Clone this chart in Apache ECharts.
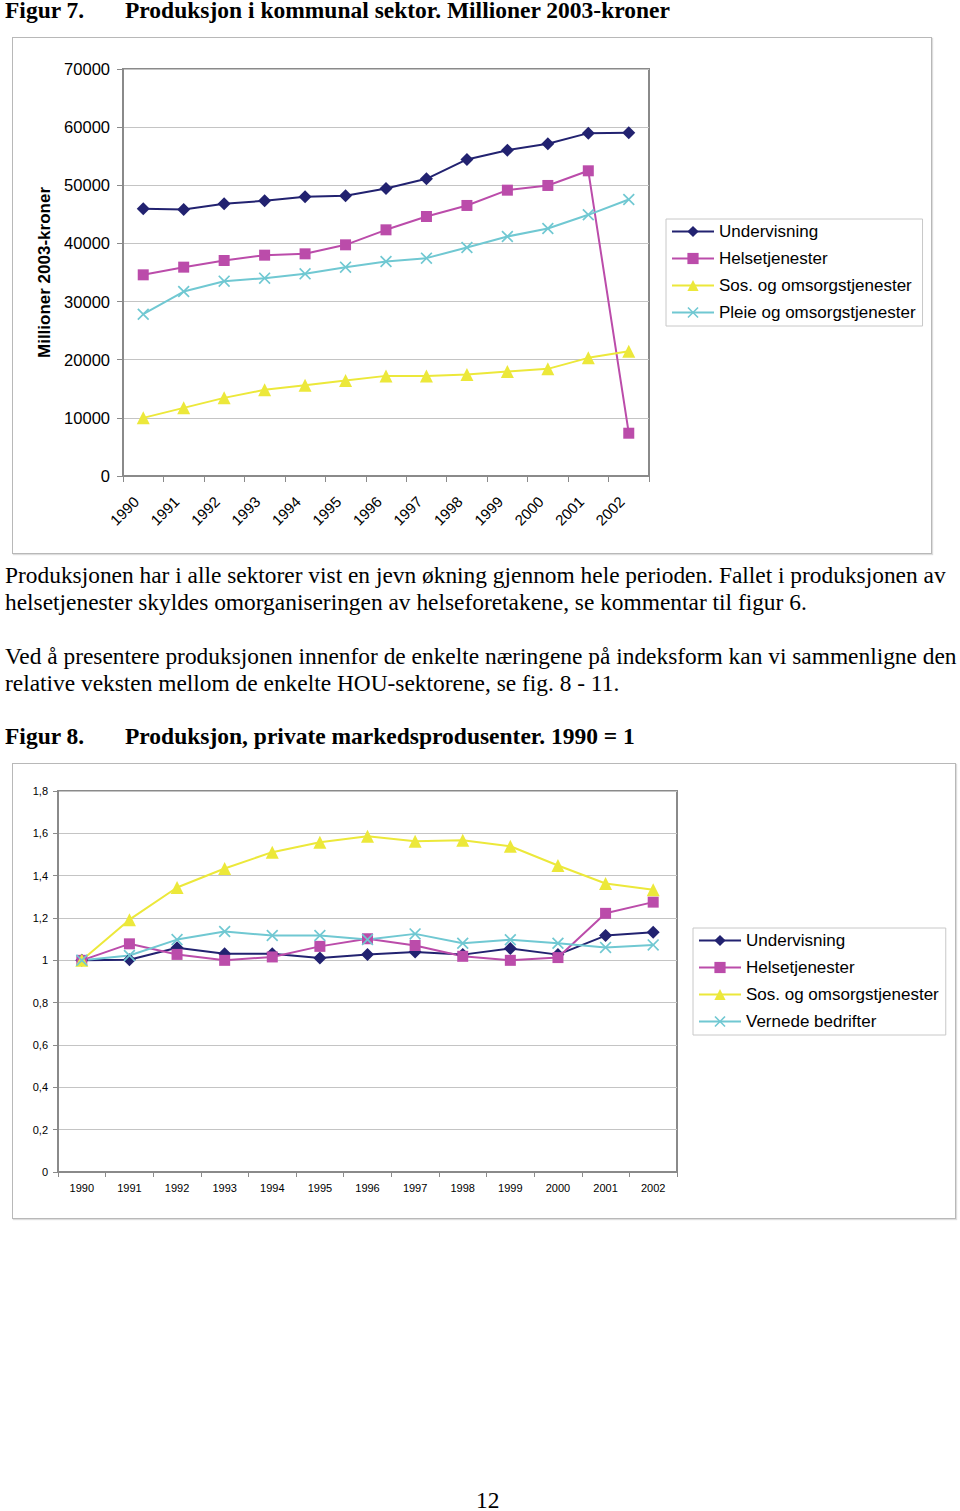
<!DOCTYPE html>
<html>
<head>
<meta charset="utf-8">
<script src="https://cdn.jsdelivr.net/npm/echarts@6/dist/echarts.min.js"></script>
<style>
  body { margin: 0; width: 960px; height: 1511px; position: relative; background: #fff; font-family: "Liberation Serif", serif; }
  .t { position: absolute; white-space: nowrap; color: #000; line-height: 26px; }
  .fig { font-weight: bold; font-size: 23.5px; }
  .p { font-size: 23.4px; }
  .box { position: absolute; border: 1px solid #b8b8b8; box-shadow: 1px 1px 1px #ddd; }
</style>
</head>
<body>
<!-- Figur 7 -->
<div class="t fig" style="left:5px;top:-3px">Figur 7.</div>
<div class="t fig" style="left:125px;top:-3px">Produksjon i kommunal sektor. Millioner 2003-kroner</div>
<div class="box" id="chart1" style="left:12px;top:37px;width:918px;height:515px"></div>

<div class="t p" style="left:5px;top:562px">Produksjonen har i alle sektorer vist en jevn økning gjennom hele perioden. Fallet i produksjonen av</div>
<div class="t p" style="left:5px;top:589px">helsetjenester skyldes omorganiseringen av helseforetakene, se kommentar til figur 6.</div>
<div class="t p" style="left:5px;top:643px">Ved å presentere produksjonen innenfor de enkelte næringene på indeksform kan vi sammenligne den</div>
<div class="t p" style="left:5px;top:670px">relative veksten mellom de enkelte HOU-sektorene, se fig. 8 - 11.</div>

<!-- Figur 8 -->
<div class="t fig" style="left:5px;top:723px">Figur 8.</div>
<div class="t fig" style="left:125px;top:723px">Produksjon, private markedsprodusenter. 1990 = 1</div>
<div class="box" id="chart2" style="left:12px;top:763px;width:942px;height:454px"></div>

<div class="t p" style="left:476px;top:1487px">12</div>

<script>
// år
const years = ['1990', '1991', '1992', '1993', '1994', '1995', '1996', '1997', '1998', '1999', '2000', '2001', '2002'];

// figur 7, millioner 2003-kroner
const undervisning = [45950, 45840, 46810, 47330, 48020, 48190, 49450, 51110, 54440, 56040, 57130, 58970, 59030];
const helse = [34600, 35920, 37060, 37980, 38210, 39760, 42340, 44630, 46530, 49160, 49970, 52490, 7360];
const sos = [10000, 11720, 13440, 14820, 15620, 16420, 17220, 17220, 17450, 17970, 18430, 20320, 21470];
const pleie = [27830, 31730, 33510, 34030, 34770, 35920, 36890, 37470, 39300, 41190, 42570, 44920, 47560];

// figur 8, indeks 1990 = 1
const undervisning2 = [1.00, 1.003, 1.059, 1.031, 1.031, 1.011, 1.028, 1.039, 1.027, 1.056, 1.027, 1.117, 1.133];
const helse2 = [1.00, 1.078, 1.028, 1.00, 1.016, 1.066, 1.102, 1.070, 1.019, 1.00, 1.013, 1.222, 1.275];
const sos2 = [1.00, 1.192, 1.344, 1.434, 1.511, 1.558, 1.586, 1.563, 1.567, 1.539, 1.448, 1.363, 1.333];
const vernede2 = [1.00, 1.023, 1.098, 1.136, 1.117, 1.117, 1.098, 1.125, 1.081, 1.097, 1.081, 1.061, 1.073];

const NAVY = '#222270';
const MAGENTA = '#bb4caa';
const YELLOW = '#ece83a';
const CYAN = '#70c8d2';
const X_SYMBOL = 'path://M0,1L1,0L5,4L9,0L10,1L6,5L10,9L9,10L5,6L1,10L0,9L4,5Z';

function lineSeries(name, data, color, symbol, size) {
    return {
        name: name,
        type: 'line',
        data: data,
        symbol: symbol,
        symbolSize: size,
        lineStyle: { color: color, width: 2 },
        itemStyle: { color: color },
        emphasis: { disabled: true },
        animation: false
    };
}

const axisGray = '#8a8a8a';
const legendBase = {
    orient: 'vertical',
    padding: [4, 7, 5, 5],
    itemGap: 10,
    itemWidth: 42,
    itemHeight: 14,
    borderColor: '#c8c8c8',
    borderWidth: 1,
    textStyle: { fontSize: 17, color: '#000', fontFamily: 'Liberation Sans, Arial, sans-serif' }
};

// Figur 7
const c1 = echarts.init(document.getElementById('chart1'), null, { renderer: 'svg' });
c1.setOption({
    animation: false,
    textStyle: { fontFamily: 'Liberation Sans, Arial, sans-serif' },
    grid: { left: 110, top: 31, width: 526, height: 407, show: true, borderColor: axisGray, borderWidth: 2, backgroundColor: 'transparent' },
    legend: Object.assign({}, legendBase, {
        left: 653,
        top: 181,
        data: ['Undervisning', 'Helsetjenester', 'Sos. og omsorgstjenester', 'Pleie og omsorgstjenester']
    }),
    xAxis: {
        type: 'category',
        data: years,
        boundaryGap: true,
        axisLine: { lineStyle: { color: axisGray, width: 2 } },
        axisTick: { show: true, length: 6, lineStyle: { color: axisGray } },
        axisLabel: { rotate: 45, fontSize: 15, color: '#000', margin: 16, padding: [0, 10, 0, 0], interval: 0 }
    },
    yAxis: {
        type: 'value',
        min: 0,
        max: 70000,
        interval: 10000,
        name: 'Millioner 2003-kroner',
        nameLocation: 'middle',
        nameGap: 70,
        nameTextStyle: { fontSize: 17, fontWeight: 'bold', color: '#000' },
        axisLine: { show: true, lineStyle: { color: axisGray, width: 2 } },
        axisTick: { show: true, length: 6, lineStyle: { color: axisGray } },
        axisLabel: { fontSize: 16.5, color: '#000', margin: 13, formatter: v => String(v) },
        splitLine: { lineStyle: { color: '#c4c4c4', width: 1 } }
    },
    series: [
        lineSeries('Undervisning', undervisning, NAVY, 'diamond', 13),
        lineSeries('Helsetjenester', helse, MAGENTA, 'rect', 11),
        lineSeries('Sos. og omsorgstjenester', sos, YELLOW, 'triangle', 13),
        lineSeries('Pleie og omsorgstjenester', pleie, CYAN, X_SYMBOL, 12)
    ]
});

// Figur 8
const c2 = echarts.init(document.getElementById('chart2'), null, { renderer: 'svg' });
c2.setOption({
    animation: false,
    textStyle: { fontFamily: 'Liberation Sans, Arial, sans-serif' },
    grid: { left: 45, top: 27, width: 619, height: 381, show: true, borderColor: axisGray, borderWidth: 2, backgroundColor: 'transparent' },
    legend: Object.assign({}, legendBase, {
        left: 680,
        top: 164,
        data: ['Undervisning', 'Helsetjenester', 'Sos. og omsorgstjenester', 'Vernede bedrifter']
    }),
    xAxis: {
        type: 'category',
        data: years,
        boundaryGap: true,
        axisLine: { lineStyle: { color: axisGray, width: 2 } },
        axisTick: { show: true, length: 5, lineStyle: { color: axisGray } },
        axisLabel: { fontSize: 11, color: '#000', margin: 10, interval: 0 }
    },
    yAxis: {
        type: 'value',
        min: 0,
        max: 1.8,
        interval: 0.2,
        axisLine: { show: true, lineStyle: { color: axisGray, width: 2 } },
        axisTick: { show: true, length: 5, lineStyle: { color: axisGray } },
        axisLabel: {
            fontSize: 11, color: '#000', margin: 10,
            formatter: v => String(+v.toFixed(1)).replace('.', ',')
        },
        splitLine: { lineStyle: { color: '#c4c4c4', width: 1 } }
    },
    series: [
        lineSeries('Undervisning', undervisning2, NAVY, 'diamond', 13),
        lineSeries('Helsetjenester', helse2, MAGENTA, 'rect', 11),
        lineSeries('Sos. og omsorgstjenester', sos2, YELLOW, 'triangle', 13),
        lineSeries('Vernede bedrifter', vernede2, CYAN, X_SYMBOL, 12)
    ]
});
</script>
</body>
</html>
